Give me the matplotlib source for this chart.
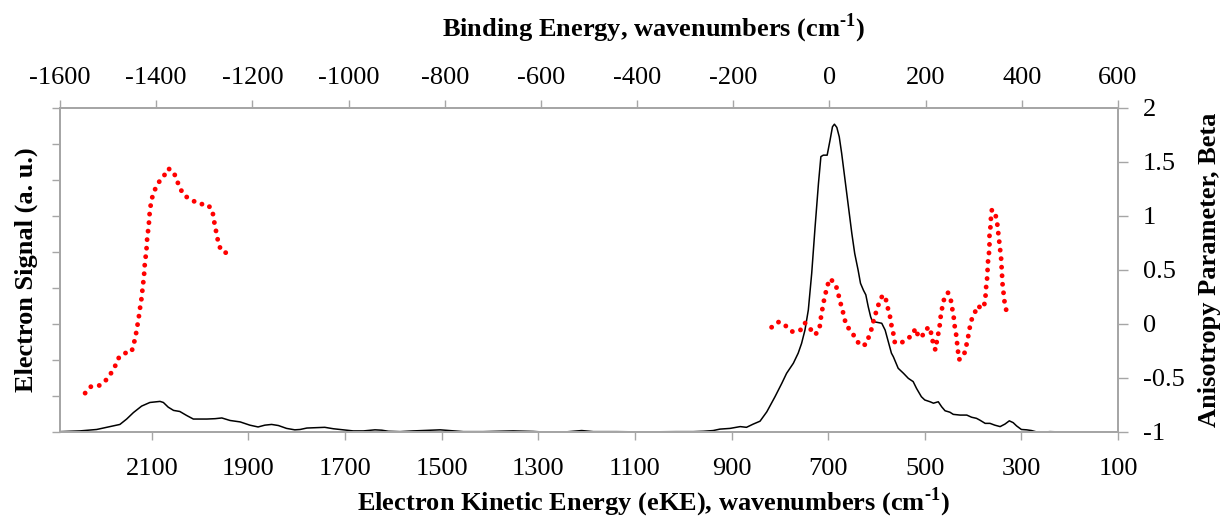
"""
Photoelectron spectrum with anisotropy parameter (beta) overlay,
eKE on the bottom axis and binding energy on the top axis
"""

import numpy as np
import matplotlib
matplotlib.use("Agg")
from matplotlib import pyplot as plt

plt.rcParams["font.family"] = ["Liberation Serif", "DejaVu Serif"]
plt.rcParams["mathtext.fontset"] = "custom"
plt.rcParams["mathtext.rm"] = "Liberation Serif:bold"
plt.rcParams["mathtext.bf"] = "Liberation Serif:bold"
plt.rcParams["axes.unicode_minus"] = False

# Electron signal (arbitrary units, left axis) vs eKE (cm-1)
signal_eke = [2290, 2249, 2214, 2187, 2166, 2152, 2138, 2121, 2104, 2083,
              2076, 2066, 2055, 2042, 2028, 2014, 1986, 1969, 1955, 1938,
              1917, 1897, 1880, 1866, 1852, 1838, 1821, 1804, 1793, 1779,
              1759, 1742, 1724, 1704, 1683, 1662, 1638, 1624, 1610, 1586,
              1559, 1503, 1483, 1455, 1414, 1352, 1310, 1290, 1241, 1210,
              1186, 1138, 1103, 1062, 1014, 979, 958, 938, 924, 903,
              882, 869, 855, 841, 827, 810, 796, 786, 772, 762,
              755, 748, 741, 734, 727, 720, 715, 710, 702, 696,
              691, 687, 682, 677, 672, 665, 658, 651, 645, 638,
              633, 627, 622, 617, 612, 608, 600, 589, 582, 576,
              569, 565, 555, 544, 534, 524, 517, 507, 500, 489,
              482, 472, 465, 458, 448, 441, 427, 413, 403, 393,
              386, 375, 365, 355, 344, 334, 325, 317, 310, 300,
              289, 279, 268, 251, 241, 213, 150, 100]
signal = [0.01, 0.03, 0.07, 0.15, 0.21, 0.36, 0.54, 0.72, 0.82, 0.85,
          0.82, 0.69, 0.60, 0.57, 0.46, 0.36, 0.36, 0.37, 0.39, 0.32,
          0.28, 0.19, 0.14, 0.19, 0.21, 0.18, 0.10, 0.06, 0.07, 0.11,
          0.12, 0.13, 0.09, 0.06, 0.03, 0.03, 0.06, 0.05, 0.02, 0.01,
          0.03, 0.06, 0.04, 0.01, 0.01, 0.03, 0.015, 0.0, 0.005, 0.04,
          0.01, 0.01, 0.005, 0.005, 0.01, 0.01, 0.02, 0.04, 0.08, 0.10,
          0.15, 0.13, 0.22, 0.30, 0.56, 0.98, 1.35, 1.63, 1.91, 2.19,
          2.46, 2.83, 3.39, 4.41, 5.70, 6.91, 7.65, 7.69, 7.69, 8.11,
          8.48, 8.55, 8.46, 8.20, 7.74, 7.00, 6.26, 5.52, 4.96, 4.50,
          4.13, 3.94, 3.81, 3.48, 3.20, 3.06, 3.05, 3.02, 2.83, 2.53,
          2.19, 2.09, 1.77, 1.63, 1.49, 1.40, 1.21, 0.98, 0.89, 0.84,
          0.80, 0.84, 0.70, 0.59, 0.55, 0.49, 0.47, 0.47, 0.41, 0.38,
          0.33, 0.24, 0.24, 0.19, 0.15, 0.22, 0.31, 0.26, 0.17, 0.07,
          0.06, 0.04, 0.0, 0.0, 0.01, 0.0, 0.0, 0.0]

# Beta, hot band region
beta1_eke = [2238, 2226, 2209, 2195, 2185, 2176, 2168, 2156, 2142, 2137,
             2133, 2130, 2127, 2125, 2122, 2120, 2118, 2116, 2115, 2113,
             2111, 2110, 2108, 2106, 2105, 2103, 2100, 2094, 2086, 2075,
             2066, 2055, 2048, 2042, 2033, 2018, 2002, 1986, 1975, 1972,
             1969, 1965, 1962, 1955, 1938]
beta1 = [-0.64, -0.58, -0.57, -0.52, -0.46, -0.39, -0.31, -0.27, -0.26, -0.18,
         -0.10, -0.02, 0.06, 0.13, 0.21, 0.29, 0.37, 0.45, 0.53, 0.61,
         0.69, 0.77, 0.85, 0.93, 1.00, 1.08, 1.16, 1.24, 1.31, 1.37,
         1.44, 1.41, 1.33, 1.26, 1.19, 1.15, 1.11, 1.11, 1.06, 0.98,
         0.90, 0.82, 0.74, 0.67, 0.65]

# Beta, origin region
beta2_eke = [817, 802, 787, 774, 758, 748, 738, 727, 718, 716,
             713, 710, 706, 702, 696, 685, 680, 676, 671, 667,
             663, 652, 642, 634, 622, 615, 609, 605, 600, 595,
             587, 580, 576, 572, 569, 565, 562, 550, 538, 527,
             519, 513, 506, 499, 489, 486, 482, 478, 475, 472,
             469, 467, 464, 460, 452, 446, 443, 440, 438, 435,
             433, 431, 429, 419, 415, 411, 408, 404, 397, 390,
             382, 376, 374, 373, 371, 370, 369, 367, 366, 366,
             364, 363, 361, 353, 350, 348, 346, 344, 342, 341,
             340, 339, 337, 335, 332, 327]
beta2 = [-0.03, 0.02, -0.02, -0.07, -0.06, 0.01, -0.04, -0.10, -0.05, 0.03,
         0.11, 0.19, 0.27, 0.35, 0.42, 0.37, 0.30, 0.22, 0.14, 0.07,
         -0.01, -0.07, -0.14, -0.20, -0.19, -0.11, -0.03, 0.05, 0.12, 0.19,
         0.27, 0.22, 0.14, 0.07, -0.01, -0.09, -0.17, -0.18, -0.14, -0.11,
         -0.04, -0.12, -0.12, -0.05, -0.03, -0.11, -0.19, -0.24, -0.16, -0.09,
         -0.01, 0.07, 0.15, 0.23, 0.29, 0.22, 0.14, 0.06, -0.02, -0.10,
         -0.18, -0.26, -0.33, -0.29, -0.22, -0.14, -0.06, 0.03, 0.10, 0.17,
         0.14, 0.19, 0.27, 0.34, 0.42, 0.50, 0.58, 0.66, 0.74, 0.82,
         0.90, 0.98, 1.06, 1.00, 0.93, 0.85, 0.77, 0.69, 0.61, 0.53,
         0.45, 0.37, 0.29, 0.21, 0.14, 0.06]

bottom_ticks = list(range(2100, 0, -200))
top_ticks = list(range(-1600, 601, 200))
beta_ticks = [-1, -0.5, 0, 0.5, 1, 1.5, 2]
beta_labels = ["-1", "-0.5", "0", "0.5", "1", "1.5", "2"]

spine_col = "#a6a6a6"
tick_fs = 19
label_fs = 19
W, H = 1227, 520
fig = plt.figure(figsize=(W / 100, H / 100), dpi=100)
ax = fig.add_axes([60 / W, (H - 432) / H, 1058 / W, 324 / H])

ax.plot(signal_eke, signal, color="black", lw=1.1)
ax.set_xlim(2290, 100)
ax.set_ylim(0, 9)
ax.set_xticks(bottom_ticks)
ax.set_yticks(range(10))
ax.set_yticklabels([])
ax.tick_params(axis="x", direction="out", length=6, width=1, color=spine_col,
               labelsize=tick_fs, pad=13)
ax.tick_params(axis="y", direction="out", length=6, width=1, color=spine_col)
ax.set_xlabel("Electron Kinetic Energy (eKE), wavenumbers (cm$^{\\text{-1}}$)",
              fontsize=label_fs, fontweight="bold")
ax.xaxis.set_label_coords(0.561, -0.165)
ax.set_ylabel("Electron Signal (a. u.)", fontsize=label_fs, fontweight="bold")
ax.yaxis.set_label_coords(-22 / 1058, 0.5)

axr = ax.twinx()
dots = dict(color="red", lw=3.5, linestyle=(0, (0.01, 1.75)),
            dash_capstyle="round")
axr.plot(beta1_eke, beta1, **dots)
axr.plot(beta2_eke, beta2, **dots)
axr.set_ylim(-1, 2)
axr.set_yticks(beta_ticks)
axr.set_yticklabels(beta_labels)
axr.tick_params(axis="y", direction="out", length=7, width=1, color=spine_col,
                labelsize=tick_fs, pad=11)
axr.set_ylabel("Anisotropy Parameter, Beta", fontsize=label_fs, fontweight="bold")
axr.yaxis.set_label_coords(1 + 80 / 1058, 0.5)

axt = ax.twiny()
axt.set_xlim(-1600, 600)
axt.set_xticks(top_ticks)
axt.tick_params(axis="x", direction="out", length=6, width=1, color=spine_col,
                labelsize=tick_fs, pad=8)
axt.set_xlabel("Binding Energy, wavenumbers (cm$^{\\text{-1}}$)",
               fontsize=label_fs, fontweight="bold")
axt.xaxis.set_label_coords(0.561, 1.22)

for a in (ax, axr, axt):
    for s in a.spines.values():
        s.set_color(spine_col)
        s.set_linewidth(1.3)

fig.savefig("out.png", dpi=100)
